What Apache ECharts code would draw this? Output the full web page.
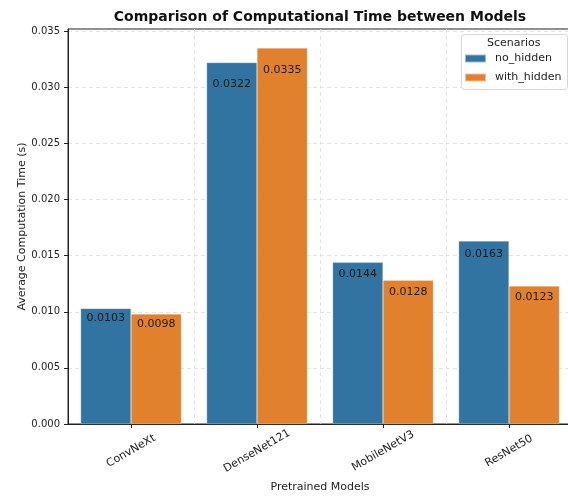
<!DOCTYPE html>
<html>
<head>
<meta charset="utf-8">
<script src="https://cdn.jsdelivr.net/npm/echarts@6/dist/echarts.min.js"></script>
<style>
  html, body { margin: 0; padding: 0; background: #fff; }
  #chart { width: 568px; height: 496px; }
</style>
</head>
<body>
<div id="chart"></div>
<script>
const models = ['ConvNeXt', 'DenseNet121', 'MobileNetV3', 'ResNet50'];
const noHidden = [0.0103, 0.0322, 0.0144, 0.0163];
const withHidden = [0.0098, 0.0335, 0.0128, 0.0123];
const scenarios = ['no_hidden', 'with_hidden'];
const yTicks = [0, 0.005, 0.01, 0.015, 0.02, 0.025, 0.03, 0.035];

const FONT = 'DejaVu Sans';
const colors = ['#3274a1', '#e1812c'];
const gridLine = {
  show: true, showMinLine: false, showMaxLine: false,
  lineStyle: { color: '#dddddd', type: [4, 3], width: 0.8 }
};

const chart = echarts.init(document.getElementById('chart'));

// label sits a little below the bar top, deeper for taller bars
const toData = (vals) => vals.map(v => ({
  value: v,
  label: { distance: Math.max(3, v * 500 - 0.5) }
}));

const barSeries = (name, vals, color) => ({
  name,
  type: 'bar',
  xAxisIndex: 0,
  data: toData(vals),
  barGap: '0%',
  barCategoryGap: '20%',
  itemStyle: { color, borderColor: 'rgba(255,255,255,0.5)', borderWidth: 0.5 },
  label: {
    show: true,
    position: 'insideTop',
    color: '#1a1a1a',
    fontFamily: FONT,
    fontSize: 11,
    formatter: p => p.value.toFixed(4)
  },
  animation: false
});

const option = {
  backgroundColor: '#fff',
  textStyle: { fontFamily: FONT },
  grid: {
    left: 68, right: -4, top: 29, bottom: 72,
    outerBoundsMode: 'none',
    show: true, borderColor: '#222', borderWidth: 1, backgroundColor: 'transparent'
  },
  graphic: [
    {
      type: 'text', x: 320, y: 17, z: 10,
      style: {
        text: 'Comparison of Computational Time between Models',
        font: 'bold 14px "DejaVu Sans"', fill: '#111',
        textAlign: 'center', textVerticalAlign: 'middle'
      }
    },
    {
      type: 'rect', left: 461, top: 34, z: 10,
      shape: { width: 106, height: 55, r: 3 },
      style: { fill: 'rgba(255,255,255,0.85)', stroke: '#d8d8d8', lineWidth: 1 }
    },
    {
      type: 'text', left: 487, top: 37, z: 11,
      style: { text: 'Scenarios', font: '11px "DejaVu Sans"', fill: '#222', lineHeight: 13 }
    }
  ],
  legend: {
    data: scenarios,
    orient: 'vertical',
    left: 464, top: 52, padding: 0,
    itemWidth: 21, itemHeight: 8, itemGap: 6,
    icon: 'rect',
    z: 12,
    textStyle: { fontFamily: FONT, fontSize: 11, color: '#222', padding: [0, 0, 0, 4], lineHeight: 13 }
  },
  xAxis: [
    {
      type: 'category',
      data: models,
      name: 'Pretrained Models',
      nameLocation: 'middle',
      nameGap: 58,
      nameMoveOverlap: false,
      nameTextStyle: { fontFamily: FONT, fontSize: 11, color: '#222' },
      axisLine: { show: true, lineStyle: { color: '#222', width: 1 } },
      axisTick: { show: true, alignWithLabel: true, length: 4, lineStyle: { color: '#222' } },
      axisLabel: {
        rotate: 30, align: 'center', verticalAlign: 'middle', margin: 27,
        fontFamily: FONT, fontSize: 11, color: '#222'
      },
      splitLine: { show: false }
    },
    {
      type: 'value',
      min: -0.5, max: 3.5, interval: 1,
      position: 'bottom',
      axisLine: { show: false, onZero: false }, axisTick: { show: false }, axisLabel: { show: false },
      splitLine: gridLine
    }
  ],
  yAxis: {
    type: 'value',
    min: 0, max: 0.03519, interval: 0.005,
    name: 'Average Computation Time (s)',
    nameLocation: 'middle',
    nameGap: 40,
    nameMoveOverlap: false,
    nameTextStyle: { fontFamily: FONT, fontSize: 11, color: '#222' },
    axisLine: { show: true, onZero: false, lineStyle: { color: '#222', width: 1 } },
    axisTick: { show: true, length: 4, lineStyle: { color: '#222' } },
    axisLabel: {
      showMaxLabel: false, margin: 8,
      fontFamily: FONT, fontSize: 10, color: '#222',
      formatter: v => (yTicks.some(t => Math.abs(t - v) < 1e-9) ? v.toFixed(3) : '')
    },
    splitLine: gridLine
  },
  series: [
    barSeries(scenarios[0], noHidden, colors[0]),
    barSeries(scenarios[1], withHidden, colors[1])
  ]
};

chart.setOption(option);
</script>
</body>
</html>
